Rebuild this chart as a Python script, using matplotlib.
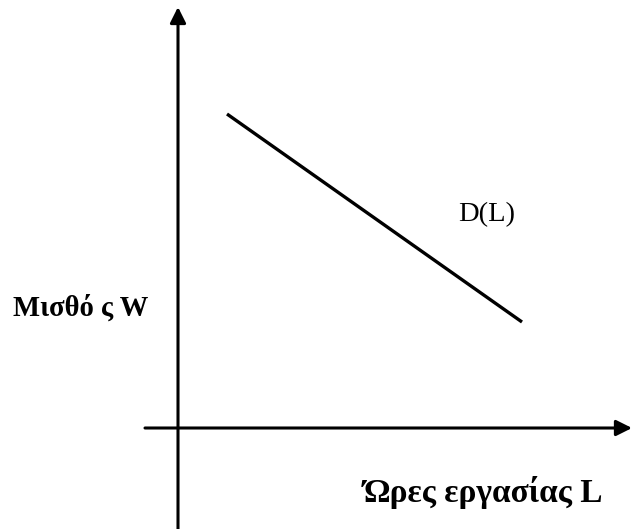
import matplotlib.pyplot as plt

# demand curve D(L): hours of work L vs wage W (units = pixel-like, origin at axes crossing)
hours = [49, 344]
wage = [314, 106]

x_range = [-33, 454]
y_range = [-101, 421]

ylabel_txt = "Μισθό ς W"
xlabel_txt = "Ώρες εργασίας L"
curve_txt = "D(L)"

fig = plt.figure(figsize=(6.33, 5.29), dpi=100)
ax = fig.add_axes([0, 0, 1, 1])
ax.set_xlim(-178, 633 - 178)
ax.set_ylim(428 - 529, 428)
ax.axis("off")

arrow = dict(arrowstyle="-|>,head_length=0.5,head_width=0.25", lw=2.2,
             color="black", mutation_scale=19, shrinkA=0, shrinkB=0)
# axes with arrow heads
ax.annotate("", xy=(0, y_range[1]), xytext=(0, y_range[0]), arrowprops=arrow)
ax.annotate("", xy=(x_range[1], 0), xytext=(x_range[0], 0), arrowprops=arrow)

# the demand line
ax.plot(hours, wage, color="black", lw=2.4, solid_capstyle="butt")

serif = ["Liberation Serif", "DejaVu Serif"]
ax.text(-165, 112, ylabel_txt, family=serif, fontsize=20.6, fontweight="bold",
        ha="left", va="baseline")
ax.text(186, -74, xlabel_txt, family=serif, fontsize=24, fontweight="bold",
        ha="left", va="baseline")
ax.text(280, 207, curve_txt, family=serif, fontsize=20.5, ha="left", va="baseline")

fig.savefig("out.png", dpi=100)
